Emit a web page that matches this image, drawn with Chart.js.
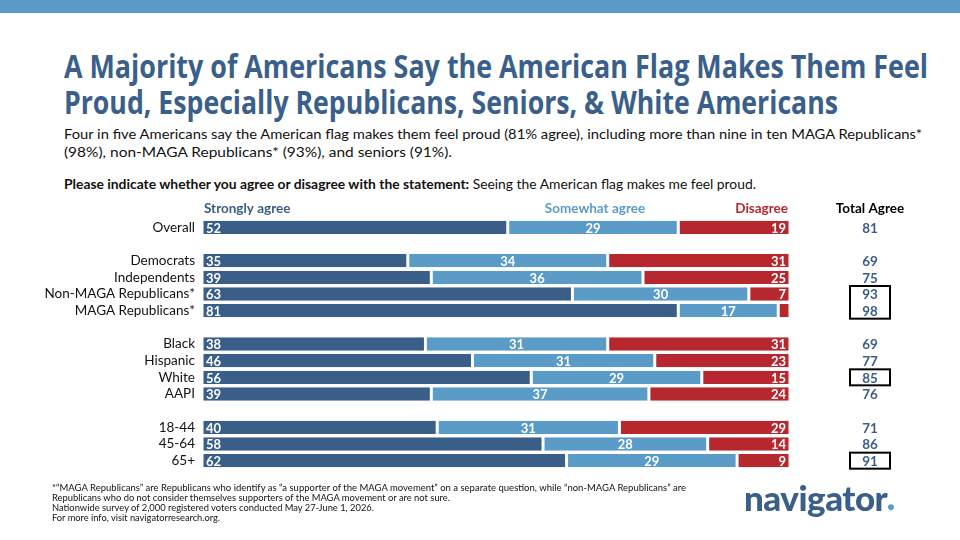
<!DOCTYPE html>
<html>
<head>
<meta charset="utf-8">
<script src="https://cdn.jsdelivr.net/npm/chart.js@4"></script>
<style>
  body{margin:0;width:960px;height:540px;overflow:hidden;background:#fff;font-family:Lato,"Noto Sans",sans-serif;position:relative}
  #band{position:absolute;left:0;top:0;width:960px;height:13px;background:#5B9BC9}
  .ln{position:absolute;white-space:nowrap;transform-origin:0 0}
  .title{left:64px;color:#3A5F8A;font-family:"Open Sans",sans-serif;font-weight:bold;font-size:33px;line-height:36px}
  .sub{left:64px;font-size:13.5px;line-height:18px;color:#111}
  .foot{left:52px;font-family:Lato,sans-serif;font-size:9px;line-height:10px;color:#111}
  #logo{position:absolute;left:744px;top:476px;font-family:Lato,sans-serif;font-weight:900;font-size:35px;color:#3A5F8A;letter-spacing:-0.5px}
  #logo span{color:#5B9BC9;font-size:12px}
  canvas{position:absolute;left:0;top:0}
</style>
</head>
<body>
<div id="band"></div>
<div class="ln title" style="top:48px" data-w="864">A Majority of Americans Say the American Flag Makes Them Feel</div>
<div class="ln title" style="top:84px" data-w="774">Proud, Especially Republicans, Seniors, &amp; White Americans</div>
<div class="ln sub" style="top:125px" data-w="858">Four in five Americans say the American flag makes them feel proud (81% agree), including more than nine in ten MAGA Republicans*</div>
<div class="ln sub" style="top:143px" data-w="388">(98%), non-MAGA Republicans* (93%), and seniors (91%).</div>
<div class="ln sub" style="top:175px;font-size:13px" data-w="692"><b>Please indicate whether you agree or disagree with the statement:</b> Seeing the American flag makes me feel proud.</div>
<canvas id="chart" width="960" height="540"></canvas>
<div class="ln foot" style="top:483px" data-w="634">*“MAGA Republicans” are Republicans who identify as “a supporter of the MAGA movement” on a separate question, while “non-MAGA Republicans” are</div>
<div class="ln foot" style="top:493px" data-w="398">Republicans who do not consider themselves supporters of the MAGA movement or are not sure.</div>
<div class="ln foot" style="top:503px" data-w="322">Nationwide survey of 2,000 registered voters conducted May 27-June 1, 2026.</div>
<div class="ln foot" style="top:513px" data-w="168">For more info, visit navigatorresearch.org.</div>
<div id="logo">navigator<span>●</span></div>
<script>
// DATA (empty label = spacer row)
const groups = ["Overall","","Democrats","Independents","Non-MAGA Republicans*","MAGA Republicans*","","Black","Hispanic","White","AAPI","","18-44","45-64","65+"];
const stronglyAgree = [52,null,35,39,63,81,null,38,46,56,39,null,40,58,62];
const somewhatAgree = [29,null,34,36,30,17,null,31,31,29,37,null,31,28,29];
const disagree      = [19,null,31,25,7,2,null,31,23,15,24,null,29,14,9];
const totalAgree    = [81,null,69,75,93,98,null,69,77,85,76,null,71,86,91];
const boxedRows = [[4,5],[9],[14]];

const darkBlue="#395E87", lightBlue="#5B9BC8", red="#B7282E";

// squeeze text lines to the widths seen in the slide
document.querySelectorAll(".ln").forEach(el=>{
  const w = el.getBoundingClientRect().width;
  el.style.transform = "scaleX(" + (el.dataset.w / w) + ")";
});

const ctx = document.getElementById("chart").getContext("2d");

const labelPlugin = {
  id:"labels",
  afterDatasetsDraw(chart){
    const c = chart.ctx;
    c.save();
    c.font = "bold 13px Lato, sans-serif";
    c.fillStyle = "#fff";
    c.textBaseline = "middle";
    chart.data.datasets.forEach((ds,di)=>{
      chart.getDatasetMeta(di).data.forEach((bar,i)=>{
        const v = ds.data[i];
        if(v==null || v<5) return;
        const left = Math.min(bar.x,bar.base), right = Math.max(bar.x,bar.base);
        if(di===0){ c.textAlign="left"; c.fillText(v,left+4,bar.y+1); }
        else if(di===1){ c.textAlign="center"; c.fillText(v,(left+right)/2,bar.y+1); }
        else { c.textAlign="right"; c.fillText(v,right-4,bar.y+1); }
      });
    });
    // column headers
    const area = chart.chartArea;
    const hy = 209;
    c.font = "bold 13.5px Lato, sans-serif";
    c.textAlign="left"; c.fillStyle=darkBlue; c.fillText("Strongly agree",area.left+2,hy);
    c.textAlign="center"; c.fillStyle=lightBlue; c.fillText("Somewhat agree",595,hy);
    c.textAlign="right"; c.fillStyle=red; c.fillText("Disagree",area.right-2,hy);
    c.textAlign="center"; c.fillStyle="#000"; c.fillText("Total Agree",870,hy);
    // total agree column
    const y = chart.scales.y;
    c.font = "bold 13.5px Lato, sans-serif";
    c.fillStyle = darkBlue;
    totalAgree.forEach((t,i)=>{
      if(t==null) return;
      c.fillText(t,870,y.getPixelForValue(i)+1);
    });
    c.strokeStyle="#000"; c.lineWidth=2;
    boxedRows.forEach(rows=>{
      const top = y.getPixelForValue(rows[0]) - 8;
      const bot = y.getPixelForValue(rows[rows.length-1]) + 8;
      c.strokeRect(850,top,40,bot-top);
    });
    c.restore();
  }
};

new Chart(ctx,{
  type:"bar",
  data:{
    labels:groups,
    datasets:[
      {label:"Strongly agree",data:stronglyAgree,backgroundColor:darkBlue},
      {label:"Somewhat agree",data:somewhatAgree,backgroundColor:lightBlue},
      {label:"Disagree",data:disagree,backgroundColor:red}
    ]
  },
  options:{
    indexAxis:"y",
    responsive:false,
    animation:false,
    layout:{padding:{left:0,right:170,top:219,bottom:71}},
    datasets:{bar:{categoryPercentage:1,barPercentage:0.8,borderColor:"#fff",borderSkipped:false,borderWidth:{left:1.5,right:1.5,top:0,bottom:0}}},
    plugins:{legend:{display:false},tooltip:{enabled:false}},
    scales:{
      x:{stacked:true,min:0,max:100,display:false},
      y:{
        stacked:true,
        grid:{display:false,drawTicks:false},
        border:{display:false},
        ticks:{color:"#111",autoSkip:false,font:{size:13.5,family:"Lato, sans-serif"},padding:7},
        afterFit(s){ s.width = 202; }
      }
    }
  },
  plugins:[labelPlugin]
});
</script>
</body>
</html>
